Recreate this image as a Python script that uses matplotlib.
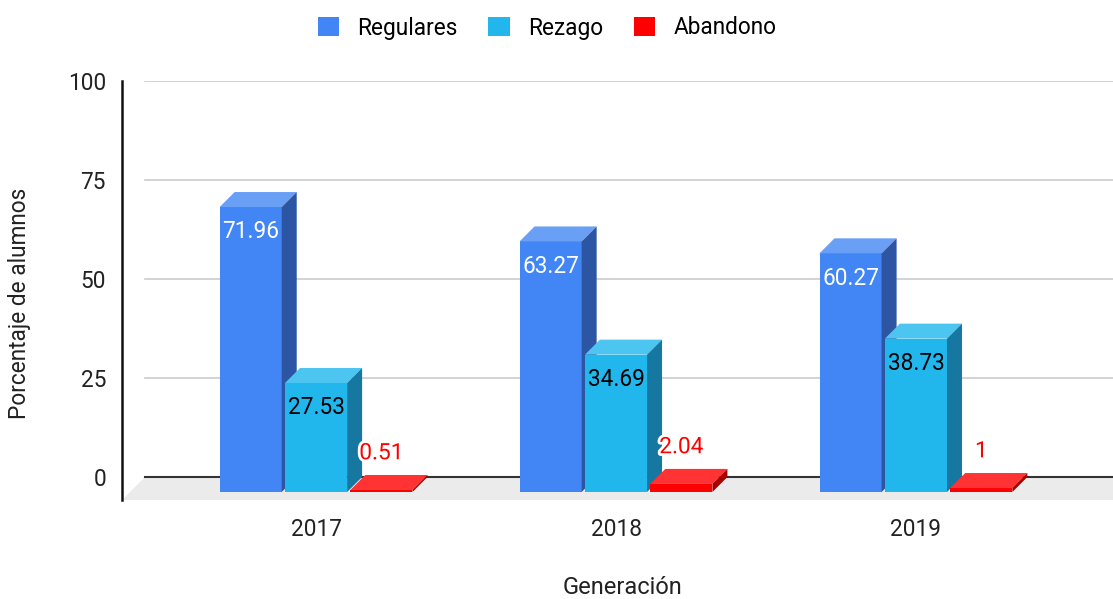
import matplotlib
matplotlib.use("Agg")
import matplotlib.pyplot as plt
from matplotlib.patches import Polygon, Rectangle
import matplotlib.patheffects as pe

plt.rcParams['font.family'] = ['Roboto', 'DejaVu Sans']

# datos
generaciones = ['2017', '2018', '2019']
series = ['Regulares', 'Rezago', 'Abandono']
regulares = [71.96, 63.27, 60.27]
rezago = [27.53, 34.69, 38.73]
abandono = [0.51, 2.04, 1]
y_ticks = [0, 25, 50, 75, 100]

valores = [regulares, rezago, abandono]
# colores: frente, tapa, lado
colores = [('#4285f4', '#6a9ff6', '#2c55a3'),
           ('#21b6ec', '#4cc5f1', '#1678a0'),
           ('#ff0000', '#ff3333', '#a80000')]
color_texto = ['white', 'black', 'red']

# profundidad 3D (en unidades de datos)
DX, DY = 0.05, 3.79
FLOOR_DX, FLOOR_Y0 = 0.077, -2.02
ancho = 0.207
paso = 0.218
fs = 16.3

fig = plt.figure(figsize=(11.13, 5.99), dpi=100)
ax = fig.add_axes([122 / 1113, 99 / 599, 991 / 1113, 419 / 599])
ax.set_xlim(-0.647, 2.657)
ax.set_ylim(FLOOR_Y0, 100 + DY)

# piso
x_left, x_right = ax.get_xlim()
ax.add_patch(Polygon([(x_left, FLOOR_Y0), (x_left + FLOOR_DX, DY),
                      (x_right, DY), (x_right, FLOOR_Y0)],
                     closed=True, facecolor='#ebebeb', edgecolor='none', zorder=0))

# lineas de fondo
for v in y_ticks:
    ax.plot([x_left + FLOOR_DX, x_right], [v + DY, v + DY],
            color='#333333' if v == 0 else '#cccccc', lw=1.5 if v == 0 else 1.2, zorder=1)

z = 2
for i in range(len(generaciones)):
    for k, vals in enumerate(valores):
        h = vals[i]
        x0 = i + (k - 1) * paso - ancho / 2
        frente, tapa, lado = colores[k]
        ax.add_patch(Rectangle((x0, 0), ancho, h, facecolor=frente, edgecolor='none', zorder=z))
        ax.add_patch(Polygon([(x0, h), (x0 + DX, h + DY), (x0 + ancho + DX, h + DY), (x0 + ancho, h)],
                             closed=True, facecolor=tapa, edgecolor='none', zorder=z))
        ax.add_patch(Polygon([(x0 + ancho, 0), (x0 + ancho + DX, DY), (x0 + ancho + DX, h + DY), (x0 + ancho, h)],
                             closed=True, facecolor=lado, edgecolor='none', zorder=z))
        z += 1
        etiqueta = f'{h:g}'
        xc = x0 + ancho / 2
        if k < 2:
            ax.text(xc, h - 6.3, etiqueta, ha='center', va='center', fontsize=fs,
                    color=color_texto[k], zorder=20)
        else:
            ax.text(xc, h + 9.4, etiqueta, ha='center', va='center', fontsize=fs,
                    color=color_texto[k], zorder=20,
                    path_effects=[pe.withStroke(linewidth=4, foreground='white')])

ax.set_yticks([v + DY for v in y_ticks])
ax.set_yticklabels([str(v) for v in y_ticks])
ax.set_xticks(range(len(generaciones)))
ax.set_xticklabels(generaciones)
ax.tick_params(axis='y', length=0, pad=11.5, labelsize=fs, labelcolor='#222222')
ax.tick_params(axis='x', length=0, pad=13, labelsize=fs, labelcolor='#222222')

for s in ['top', 'right', 'bottom']:
    ax.spines[s].set_visible(False)
ax.spines['left'].set_linewidth(1.8)
ax.spines['left'].set_color('#111111')

fig.text(20 / 1113, 1 - 303 / 599, 'Porcentaje de alumnos', rotation=90, ha='center', va='center',
         fontsize=fs, color='#222222')
fig.text(622 / 1113, 1 - 588 / 599, 'Generación', ha='center', va='center', fontsize=17, color='#222222')

handles = [Rectangle((0, 0), 1, 1, facecolor=c[0], edgecolor='none') for c in colores]
fig.legend(handles, series, loc='center', bbox_to_anchor=(547 / 1113, 1 - 28 / 599), ncol=3,
           frameon=False, fontsize=fs, handlelength=0.95, handleheight=0.95,
           handletextpad=0.8, columnspacing=1.35)

fig.savefig('out.png', dpi=100)
